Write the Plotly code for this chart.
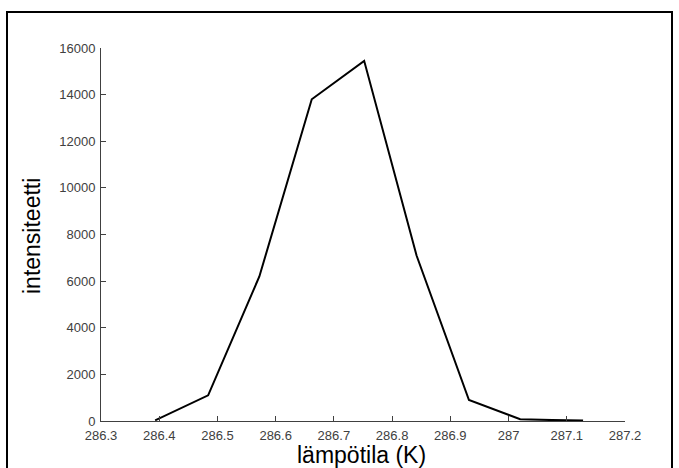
import plotly.graph_objects as go

# Measured intensity versus temperature
temperature_K = [286.393, 286.484, 286.572, 286.662, 286.752, 286.842, 286.932, 287.020, 287.075, 287.128]
intensity = [30, 1100, 6200, 13800, 15450, 7100, 900, 80, 40, 20]

x_ticks = [286.3, 286.4, 286.5, 286.6, 286.7, 286.8, 286.9, 287.0, 287.1, 287.2]
x_tick_text = ["286.3", "286.4", "286.5", "286.6", "286.7", "286.8", "286.9", "287", "287.1", "287.2"]
y_ticks = [0, 2000, 4000, 6000, 8000, 10000, 12000, 14000, 16000]
y_tick_text = ["0", "2000", "4000", "6000", "8000", "10000", "12000", "14000", "16000"]

W, H = 679, 468
L, R, T, B = 101, 54, 48, 47
pw, ph = W - L - R, H - T - B

def px_x(p):
    return (p - L) / pw

def px_y(p):
    return (H - B - p) / ph

fig = go.Figure()
fig.add_trace(go.Scatter(
    x=temperature_K, y=intensity, mode="lines",
    line=dict(color="black", width=2), showlegend=False,
))

axis_common = dict(
    showgrid=False, zeroline=False, showline=True,
    linecolor="#404040", linewidth=1,
    ticks="inside", ticklen=5, tickcolor="#404040", tickwidth=1,
    tickfont=dict(family="Liberation Sans", size=13, color="#404040"),
)

fig.update_xaxes(range=[286.3, 287.2], tickvals=x_ticks, ticktext=x_tick_text,
                 ticklabelstandoff=2, **axis_common)
fig.update_yaxes(range=[0, 16000], tickvals=y_ticks, ticktext=y_tick_text,
                 ticklabelstandoff=2, **axis_common)

fig.update_layout(
    width=W, height=H,
    margin=dict(l=L, r=R, t=T, b=B, autoexpand=False),
    paper_bgcolor="white", plot_bgcolor="white",
    shapes=[dict(
        type="rect", xref="paper", yref="paper",
        x0=px_x(7), x1=px_x(672), y0=px_y(480), y1=px_y(12),
        line=dict(color="black", width=2), fillcolor="rgba(0,0,0,0)",
    )],
    annotations=[
        dict(text="lämpötila (K)", xref="paper", yref="paper",
             x=px_x(361), y=px_y(455), xanchor="center", yanchor="middle",
             showarrow=False, font=dict(family="Liberation Sans", size=23, color="black")),
        dict(text="intensiteetti", xref="paper", yref="paper",
             x=px_x(32), y=px_y(236), xanchor="center", yanchor="middle", textangle=-90,
             showarrow=False, font=dict(family="Liberation Sans", size=23, color="black")),
    ],
)

fig.write_html("out.html")
